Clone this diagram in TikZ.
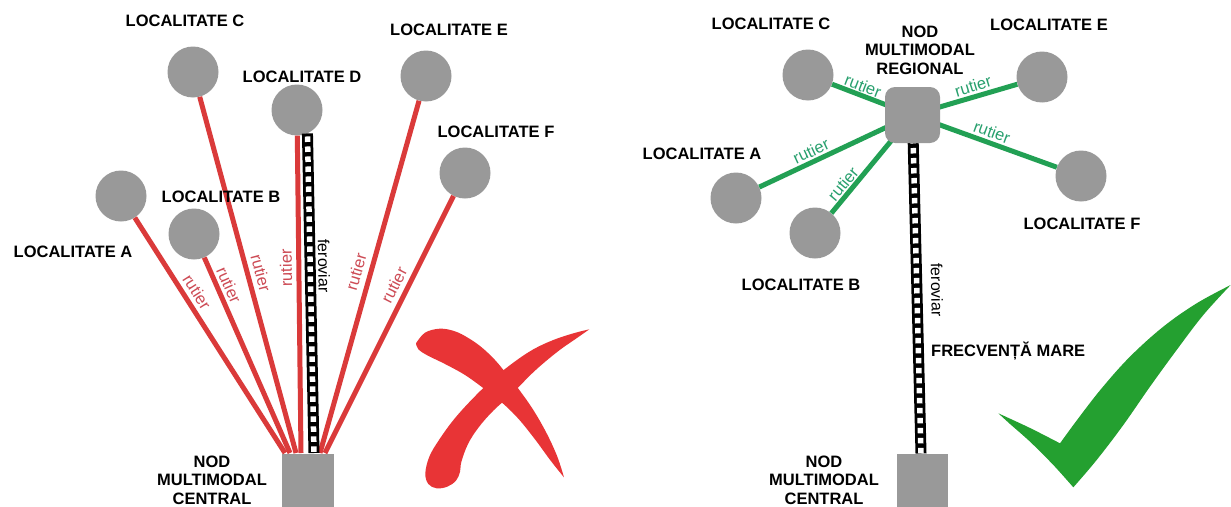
\documentclass[tikz,border=0pt]{standalone}
\usepackage{fontspec}
\setmainfont{Liberation Sans}
\definecolor{lred}{RGB}{218,58,58}
\definecolor{xred}{RGB}{232,52,54}
\definecolor{tred}{RGB}{205,75,85}
\definecolor{lgreen}{RGB}{34,160,84}
\definecolor{tgreen}{RGB}{40,160,110}
\definecolor{cgreen}{RGB}{36,160,48}
\definecolor{ngray}{RGB}{153,153,153}
\begin{document}
\begin{tikzpicture}[x=1pt,y=-1pt,
  loc/.style={circle, fill=ngray, minimum size=51pt, inner sep=0pt},
  hub/.style={rectangle, fill=ngray, minimum width=52pt, minimum height=53pt, inner sep=0pt},
  reghub/.style={rectangle, rounded corners=10pt, fill=ngray, minimum width=55pt, minimum height=56pt, inner sep=0pt},
  lbl/.style={font=\fontsize{16.5}{18.5}\selectfont\bfseries, inner sep=0pt, align=center},
  rlab/.style={font=\fontsize{16.5}{17}\selectfont, text=tred, inner sep=0pt},
  glab/.style={font=\fontsize{16.5}{17}\selectfont, text=tgreen, inner sep=0pt},
  flab/.style={font=\fontsize{16}{17}\selectfont, text=black, inner sep=0pt},
  road/.style={draw=lred, line width=5pt},
  groad/.style={draw=lgreen, line width=5pt},
  rail/.style={draw=black, line width=11pt, postaction={draw=white, line width=5.5pt, dash pattern=on 5.5pt off 4.5pt, dash phase=-3pt}}
]
\useasboundingbox (0,0) rectangle (1231,506);
\fill[white] (0,0) rectangle (1231,506);

% ---------------- LEFT PANEL ----------------
\node[loc] (A) at (121,196) {};
\node[loc] (B) at (194,234) {};
\node[loc] (C) at (193,72) {};
\node[loc] (D) at (297,110) {};
\node[loc] (E) at (426,76) {};
\node[loc] (F) at (465,173) {};
\node[hub] (cenL) at (308,480) {};

\coordinate (pA) at (285,453);
\coordinate (pB) at (290,453);
\coordinate (pC) at (296,453);
\coordinate (pD) at (301,453);
\coordinate (pFer) at (314,453);
\coordinate (pE) at (320,453);
\coordinate (pF) at (325,453);

\draw[road] (A) -- (pA);
\draw[road] (B) -- (pB);
\draw[road] (C) -- (pC);
\draw[road] (D) -- (pD);
\draw[road] (E) -- (pE);
\draw[road] (F) -- (pF);
\draw[rail] (D.-66) -- (pFer);

\node[rlab, rotate=-57.5] (tA) at (197,292) {rutier};
\node[rlab, rotate=-66] (tB) at (229,285) {rutier};
\node[rlab, rotate=-75] (tC) at (261,273) {rutier};
\node[rlab, rotate=91] (tD) at (286,268) {rutier};
\node[flab, rotate=-89] (tFer) at (324,266) {feroviar};
\node[rlab, rotate=74] (tE) at (356,272) {rutier};
\node[rlab, rotate=63] (tF) at (394,285) {rutier};

\node[lbl] (lC) at (185,21) {LOCALITATE C};
\node[lbl] (lD) at (302,77) {LOCALITATE D};
\node[lbl] (lE) at (449,30) {LOCALITATE E};
\node[lbl] (lF) at (496,132) {LOCALITATE F};
\node[lbl] (lB) at (221,197) {LOCALITATE B};
\node[lbl] (lA) at (73,252) {LOCALITATE A};
\node[lbl] (lcenL) at (212,480) {NOD\\MULTIMODAL\\CENTRAL};

% red X
\begin{scope}[shift={(400pt,-310pt)}, x=0.3333pt, y=-0.3333pt]
\fill[xred] plot[smooth, tension=0.6] coordinates {(48,100) (75,68) (120,56) (165,64) (205,84) (245,112) (285,150) (320,192) (358,240) (400,300) (440,370) (472,440) (492,502)}
  -- plot[smooth, tension=0.6] coordinates {(492,502) (452,452) (405,388) (355,326) (305,277) (255,238) (195,195) (135,162) (82,136) (55,118) (48,100)} -- cycle;
\fill[xred] plot[smooth, tension=0.6] coordinates {(568,58) (520,70) (460,90) (400,118) (340,158) (278,208) (218,266) (162,328) (117,390) (88,440) (76,490) (85,522) (110,535) (142,530) (168,512) (180,486) (184,456) (204,402) (236,352) (280,302) (335,252) (405,182) (474,124) (528,86) (568,58)} -- cycle;
\end{scope}

% ---------------- RIGHT PANEL ----------------
\coordinate (regc) at (912.5,115);
\node[loc] (rC) at (808,75) {};
\node[loc] (rE) at (1042,77) {};
\node[loc] (rA) at (736,198) {};
\node[loc] (rB) at (815,233) {};
\node[loc] (rF) at (1081,176) {};
\node[hub, minimum width=51pt] (cenR) at (922.5,480) {};
\coordinate (pR) at (921,453.5);

\draw[groad] (rC) -- (regc);
\draw[groad] (rE) -- (regc);
\draw[groad] (rA) -- (regc);
\draw[groad] (rB) -- (regc);
\draw[groad] (rF) -- (regc);
\draw[rail] (regc) -- (pR);
\node[reghub] (reg) at (regc) {};

\node[glab, rotate=-21] (gC) at (863,86) {rutier};
\node[glab, rotate=17] (gE) at (973,86) {rutier};
\node[glab, rotate=-20] (gF) at (992,132) {rutier};
\node[glab, rotate=25] (gA) at (811,151) {rutier};
\node[glab, rotate=50] (gB) at (843,184) {rutier};
\node[flab, rotate=-89] (rFer) at (937,290) {feroviar};
\node[lbl, anchor=west] (freq) at (931,351) {FRECVENȚĂ MARE};

\node[lbl] (rlC) at (771,24) {LOCALITATE C};
\node[lbl] (rlE) at (1049,25) {LOCALITATE E};
\node[lbl] (rlA) at (702,154) {LOCALITATE A};
\node[lbl] (rlF) at (1082,224) {LOCALITATE F};
\node[lbl] (rlB) at (801,285) {LOCALITATE B};
\node[lbl] (lreg) at (920,50) {NOD\\MULTIMODAL\\REGIONAL};
\node[lbl] (lcenR) at (824,480) {NOD\\MULTIMODAL\\CENTRAL};

% green check
\begin{scope}[shift={(990pt,-270pt)}, x=0.3333pt, y=-0.3333pt]
\fill[cgreen] (25,430) -- plot[smooth] coordinates {(25,430) (120,474) (210,520)}
  -- plot[smooth, tension=0.6] coordinates {(210,520) (265,445) (335,355) (420,260) (520,170) (620,100) (722,45)}
  -- plot[smooth, tension=0.6] coordinates {(722,45) (640,135) (560,240) (480,350) (400,465) (320,570) (250,652)}
  -- plot[smooth] coordinates {(250,652) (190,585) (120,515) (60,462) (25,430)} -- cycle;
\end{scope}
\end{tikzpicture}
\end{document}
